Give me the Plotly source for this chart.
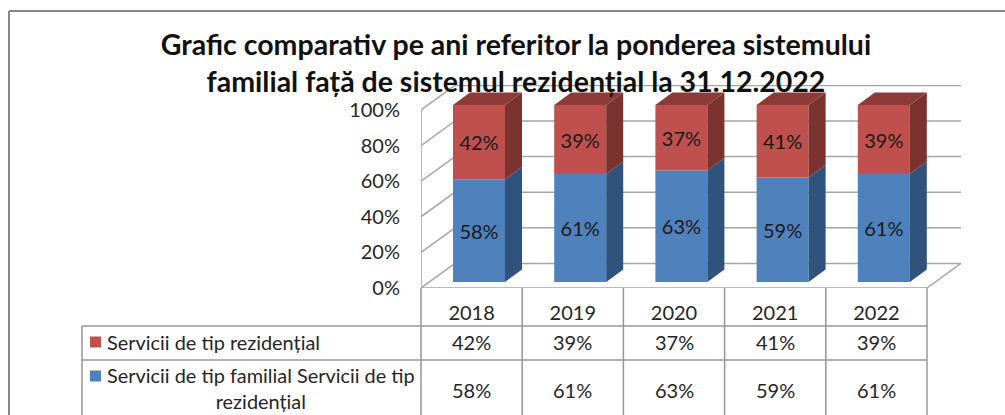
import plotly.graph_objects as go

# ---- data ----
years = ["2018", "2019", "2020", "2021", "2022"]
familial = [58, 61, 63, 59, 61]
rezidential = [42, 39, 37, 41, 39]
name_rez = "Servicii de tip rezidențial"
name_fam = "Servicii de tip familial Servicii de tip<br>rezidențial"
title = "Grafic comparativ pe ani referitor la ponderea sistemului<br>familial față de sistemul rezidențial la 31.12.2022"
ticks = [0, 20, 40, 60, 80, 100]

# ---- layout constants (pixels) ----
W, H = 1005, 415
L, R, T, B = 421, 961, 85, 288
PXC = 101.2   # pixels per category
PXV = 1.78    # pixels per percent
FONT = "Lato, Carlito, Calibri, sans-serif"
TXT = "#262626"
GRID = "#a6a6a6"

def px(x): return (x - L) / (R - L)
def py(y): return (B - y) / (B - T)

xmin, xmax = -0.5, -0.5 + (R - L) / PXC
ymin, ymax = 0, (B - T) / PXV
wall_dx, wall_dy = 34 / PXC, 24.6 / PXV      # depth of walls
bar_dx, bar_dy = 17 / PXC, 12.5 / PXV        # depth of the bars
bar_w = 52 / PXC
off_x, off_y = 7.4 / PXC, 6 / PXV            # bar inset on the floor

x_pos = [i + off_x for i in range(len(years))]
fig = go.Figure()

# front faces
base_r = [off_y + v * 177 / 178 for v in familial]
h_f = [v * 177 / 178 for v in familial]
h_r = [v * 177 / 178 for v in rezidential]
fig.add_bar(x=x_pos, y=h_f, base=[off_y] * 5, width=bar_w, marker=dict(color="#4f81bd", line_width=0),
            text=[f"{v}%" for v in familial], textposition="inside", insidetextanchor="middle",
            textangle=0, textfont=dict(family=FONT, size=20, color="#1a1a1a"), name="Servicii de tip familial")
fig.add_bar(x=x_pos, y=h_r, base=base_r, width=bar_w, marker=dict(color="#c0504d", line_width=0),
            text=[f"{v}%" for v in rezidential], textposition="inside", insidetextanchor="middle",
            textangle=0, textfont=dict(family=FONT, size=20, color="#1a1a1a"), name=name_rez)

def poly(xs, ys, color):
    fig.add_scatter(x=xs, y=ys, mode="lines", fill="toself", fillcolor=color,
                    line=dict(width=0, color=color), hoverinfo="skip")

for i, xc in enumerate(x_pos):
    xr = xc + bar_w / 2
    xl = xc - bar_w / 2
    y0, y1, y2 = off_y, base_r[i], base_r[i] + h_r[i]
    poly([xr, xr + bar_dx, xr + bar_dx, xr], [y0, y0 + bar_dy, y1 + bar_dy, y1], "#30537b")
    poly([xr, xr + bar_dx, xr + bar_dx, xr], [y1, y1 + bar_dy, y2 + bar_dy, y2], "#7a332f")
    poly([xl, xl + bar_dx, xr + bar_dx, xr], [y2, y2 + bar_dy, y2 + bar_dy, y2], "#8c3b38")

# walls, floor and gridlines, behind the bars
shapes = []
def seg(x0, y0, x1, y1):
    shapes.append(dict(type="line", xref="x", yref="y", x0=x0, y0=y0, x1=x1, y1=y1, layer="below",
                       line=dict(color=GRID, width=1.5)))
xfront_end = len(years) - 0.5
seg(-0.5, 0, -0.5, 100)
for v in ticks:
    seg(-0.5, v, -0.5 + wall_dx, v + wall_dy)
    seg(-0.5 + wall_dx, v + wall_dy, xmax, v + wall_dy)
seg(xfront_end, 0, xmax, wall_dy)
seg(-0.5, 0, xfront_end, 0)

# ---- data table below the axis ----
TBL = "#989898"
def pline(x0, y0, x1, y1, color=TBL, width=1.5):
    shapes.append(dict(type="line", xref="paper", yref="paper", x0=px(x0), y0=py(y0), x1=px(x1), y1=py(y1),
                       line=dict(color=color, width=width)))
col_edges = [L + PXC * i for i in range(len(years) + 1)]
for xe in col_edges:
    pline(xe, 288, xe, H + 2)
pline(82, 326, col_edges[-1], 326)
pline(82, 360, col_edges[-1], 360)
pline(82, 326, 82, H + 2)
# outer frame
pline(9, 11, W + 2, 11, "#868686", 2)
pline(9, 11, 9, H + 2, "#868686", 2)
# legend keys
for y, c in [(342, "#c0504d"), (376, "#4f81bd")]:
    shapes.append(dict(type="rect", xref="paper", yref="paper", x0=px(90), x1=px(101), y0=py(y - 5.5), y1=py(y + 5.5),
                       fillcolor=c, line_width=0))

ann = []
def label(xv, yv, text, xref="x", size=20):
    ann.append(dict(x=xv, y=py(yv), xref=xref, yref="paper", text=text, showarrow=False,
                    font=dict(family=FONT, size=size, color=TXT), xanchor="center", yanchor="middle"))
for i, (a, b) in enumerate(zip(rezidential, familial)):
    label(i, 342, f"{a}%")
    label(i, 390, f"{b}%")
ann.append(dict(x=px(105), y=py(342), xref="paper", yref="paper", text=name_rez, showarrow=False, xanchor="left",
                yanchor="middle", font=dict(family=FONT, size=19.9, color=TXT)))
ann.append(dict(x=px(261), y=py(388), xref="paper", yref="paper", text=name_fam, showarrow=False, xanchor="center",
                yanchor="middle", align="center", font=dict(family=FONT, size=19.9, color=TXT)))

fig.update_layout(
    width=W, height=H, autosize=False, showlegend=False, barmode="overlay",
    paper_bgcolor="white", plot_bgcolor="rgba(0,0,0,0)",
    margin=dict(l=L, r=W - R, t=T, b=H - B, pad=0),
    title=dict(text=title, x=516 / W, xanchor="center", xref="container",
               y=1 - 55 / H, yanchor="top", font=dict(family=FONT, size=28.5, color="#111111", weight="bold")),
    xaxis=dict(range=[xmin, xmax], tickvals=list(range(len(years))), ticktext=years, showgrid=False, zeroline=False,
               showline=False, ticks="", ticklabelstandoff=11, tickfont=dict(family=FONT, size=20, color=TXT)),
    yaxis=dict(range=[ymin, ymax], tickvals=ticks, ticktext=[f"{v}%" for v in ticks], showgrid=False, zeroline=False,
               showline=False, ticks="", ticklabelstandoff=20, tickfont=dict(family=FONT, size=20, color=TXT)),
    shapes=shapes, annotations=ann,
)
fig.write_html("out.html", config={"displayModeBar": False},
               post_script="document.body.style.margin='0';document.documentElement.style.overflow='hidden';")
